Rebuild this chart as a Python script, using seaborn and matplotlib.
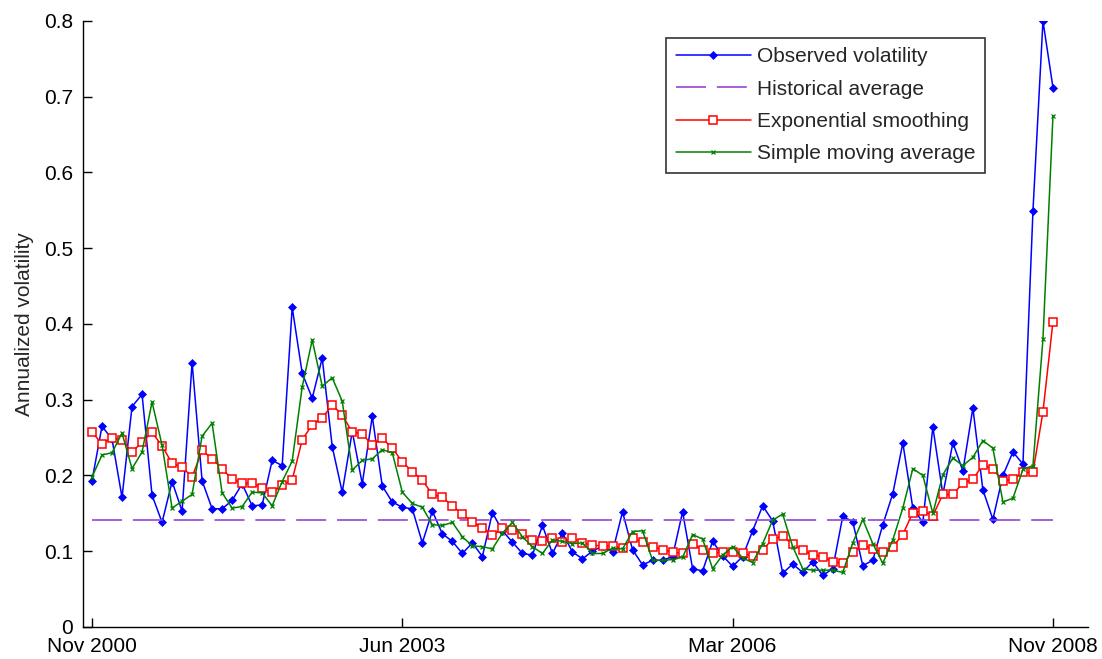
import numpy as np
import pandas as pd
import matplotlib
matplotlib.use("Agg")
import matplotlib.pyplot as plt
import seaborn as sns

# ---- data (monthly, Nov 2000 .. Nov 2008) ----
observed = [0.193, 0.265, 0.248, 0.171, 0.291, 0.307, 0.174, 0.138, 0.192, 0.153,
            0.349, 0.193, 0.156, 0.156, 0.167, 0.189, 0.160, 0.161, 0.220, 0.213,
            0.422, 0.335, 0.302, 0.355, 0.238, 0.178, 0.258, 0.189, 0.278, 0.186,
            0.165, 0.158, 0.156, 0.111, 0.153, 0.123, 0.113, 0.097, 0.111, 0.093,
            0.151, 0.127, 0.112, 0.097, 0.095, 0.134, 0.097, 0.124, 0.099, 0.090,
            0.100, 0.107, 0.099, 0.152, 0.102, 0.082, 0.088, 0.088, 0.093, 0.152,
            0.077, 0.074, 0.113, 0.094, 0.080, 0.093, 0.127, 0.160, 0.140, 0.071,
            0.083, 0.072, 0.086, 0.068, 0.077, 0.146, 0.139, 0.081, 0.088, 0.135,
            0.176, 0.243, 0.157, 0.138, 0.264, 0.175, 0.243, 0.206, 0.289, 0.181,
            0.142, 0.200, 0.231, 0.215, 0.549, 0.800, 0.712]

exp_smooth = [0.257, 0.242, 0.250, 0.247, 0.231, 0.244, 0.257, 0.239, 0.216, 0.211,
              0.198, 0.233, 0.222, 0.209, 0.195, 0.190, 0.190, 0.183, 0.178, 0.187,
              0.194, 0.247, 0.267, 0.276, 0.293, 0.280, 0.257, 0.255, 0.240, 0.249,
              0.236, 0.218, 0.205, 0.194, 0.175, 0.171, 0.160, 0.149, 0.138, 0.131,
              0.121, 0.130, 0.128, 0.123, 0.115, 0.113, 0.118, 0.112, 0.117, 0.111,
              0.108, 0.107, 0.107, 0.104, 0.117, 0.112, 0.106, 0.102, 0.099, 0.097,
              0.110, 0.101, 0.097, 0.099, 0.099, 0.097, 0.094, 0.102, 0.116, 0.120,
              0.109, 0.102, 0.095, 0.093, 0.086, 0.084, 0.099, 0.108, 0.103, 0.099,
              0.106, 0.122, 0.151, 0.153, 0.147, 0.175, 0.175, 0.190, 0.195, 0.214,
              0.208, 0.193, 0.195, 0.204, 0.204, 0.284, 0.403]

sma = [0.198, 0.227, 0.230, 0.256, 0.209, 0.231, 0.297, 0.240, 0.157, 0.166,
       0.175, 0.252, 0.269, 0.177, 0.157, 0.159, 0.178, 0.177, 0.160, 0.192,
       0.219, 0.317, 0.379, 0.318, 0.329, 0.298, 0.207, 0.220, 0.222, 0.234,
       0.230, 0.178, 0.163, 0.158, 0.135, 0.134, 0.138, 0.119, 0.107, 0.106,
       0.103, 0.124, 0.138, 0.119, 0.106, 0.097, 0.115, 0.113, 0.110, 0.111,
       0.097, 0.097, 0.104, 0.103, 0.126, 0.127, 0.088, 0.088, 0.089, 0.092,
       0.122, 0.116, 0.077, 0.095, 0.106, 0.091, 0.085, 0.110, 0.141, 0.149,
       0.106, 0.077, 0.075, 0.075, 0.075, 0.072, 0.111, 0.142, 0.110, 0.084,
       0.115, 0.157, 0.209, 0.200, 0.150, 0.201, 0.223, 0.213, 0.224, 0.246,
       0.236, 0.165, 0.170, 0.208, 0.213, 0.380, 0.675]

hist_avg = 0.141

tick_positions = [0, 31, 64, 96]
tick_labels = ["Nov 2000", "Jun 2003", "Mar 2006", "Nov 2008"]
y_ticks = [0, 0.1, 0.2, 0.3, 0.4, 0.5, 0.6, 0.7, 0.8]
y_tick_labels = ["0", "0.1", "0.2", "0.3", "0.4", "0.5", "0.6", "0.7", "0.8"]

months = np.arange(len(observed))

sns.set_theme(style="white")
plt.rcParams["font.family"] = ["Liberation Sans", "DejaVu Sans"]

fig = plt.figure(figsize=(11.02, 6.59), dpi=100)
ax = fig.add_axes([0.0753, 0.0486, 0.912, 0.9196])

sns.lineplot(x=months, y=observed, ax=ax, color="#0000FF", lw=1.1,
             marker="D", markersize=4.5, markeredgewidth=0.5,
             markerfacecolor="#0000FF", markeredgecolor="#0000FF",
             label="Observed volatility")
sns.lineplot(x=months, y=[hist_avg] * len(months), ax=ax, color="#9546D6", lw=1.2,
             dashes=(18, 6.5), label="Historical average")
sns.lineplot(x=months, y=exp_smooth, ax=ax, color="#FF0000", lw=1.1,
             marker="s", markersize=6, markerfacecolor="white",
             markeredgecolor="#FF0000", markeredgewidth=1.1,
             label="Exponential smoothing")
sns.lineplot(x=months, y=sma, ax=ax, color="#008000", lw=1.1,
             marker="x", markersize=3.5, markeredgewidth=0.9,
             markeredgecolor="#008000",
             label="Simple moving average")

ax.set_xlim(-0.9, 99.5)
ax.set_ylim(0, 0.8)
ax.set_xticks(tick_positions)
ax.set_xticklabels(tick_labels)
ax.set_yticks(y_ticks)
ax.set_yticklabels(y_tick_labels)
ax.set_ylabel("Annualized volatility", fontsize=15, labelpad=7)
ax.tick_params(axis="both", direction="in", length=6.5, width=1, labelsize=15,
               left=True, bottom=True, colors="black")
ax.tick_params(axis="x", pad=7)
ax.tick_params(axis="y", pad=7)

for s in ["top", "right"]:
    ax.spines[s].set_visible(False)
for s in ["left", "bottom"]:
    ax.spines[s].set_color("black")
    ax.spines[s].set_linewidth(1.0)

leg = ax.legend(loc="upper right", bbox_to_anchor=(0.8975, 0.972), fontsize=15,
                frameon=True, fancybox=False, edgecolor="black",
                handlelength=3.6, borderpad=0.45, labelspacing=0.64,
                handletextpad=0.3, borderaxespad=0.0)
leg.get_frame().set_linewidth(1.2)

fig.savefig("out.png", dpi=100, facecolor="white")
